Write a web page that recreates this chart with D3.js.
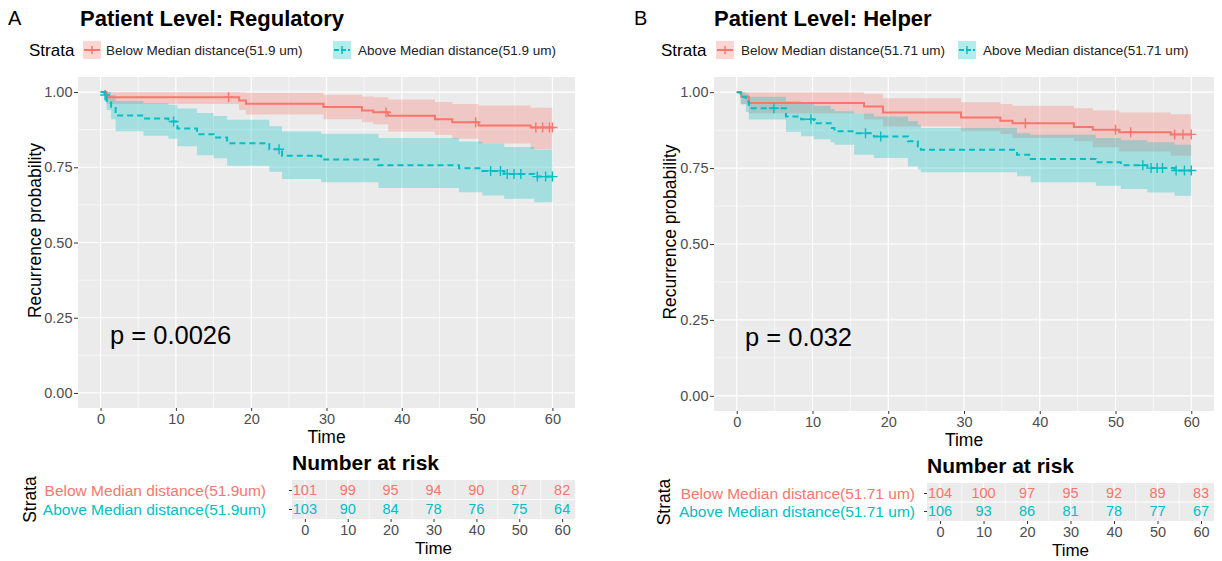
<!DOCTYPE html>
<html><head><meta charset="utf-8">
<script src="https://cdn.jsdelivr.net/npm/d3@7/dist/d3.min.js"></script>
<style>
body{margin:0;background:#fff}
text{font-family:"Liberation Sans",Arial,sans-serif}
</style>
</head><body>
<svg id="c" width="1222" height="561"></svg>
<script>
// ---------------- DATA ----------------
const timeTicks = [0, 10, 20, 30, 40, 50, 60];
const timeMinor = [5, 15, 25, 35, 45, 55];
const probTicks = [0, 0.25, 0.5, 0.75, 1];
const probMinor = [0.125, 0.375, 0.625, 0.875];
const strata = ["Below", "Above"];

// Panel A — Regulatory
const timesA_below = [0, 0.8, 18.4, 19.3, 29.6, 34.7, 36.2, 38.2, 44.4, 46.7, 50.2, 57.1, 60];
const survA_below  = [1, 0.983, 0.972, 0.961, 0.950, 0.939, 0.933, 0.921, 0.910, 0.900, 0.889, 0.882, 0.882];
const upperA_below = [1, 1, 0.999, 0.998, 0.991, 0.985, 0.983, 0.975, 0.967, 0.960, 0.955, 0.948, 0.948];
const lowerA_below = [1, 0.960, 0.940, 0.925, 0.910, 0.900, 0.893, 0.869, 0.858, 0.845, 0.829, 0.811, 0.811];
const censorA_below = [17, 37.9, 49.8, 57.8, 58.7, 59.6, 60];

const timesA_above = [0, 0.5, 0.8, 1.4, 2.0, 5.7, 9.0, 10.2, 12.8, 15.0, 16.8, 22.4, 24.1, 29.3, 36.9, 47.6, 50.7, 53.6, 57.6, 60];
const survA_above  = [1, 0.99, 0.971, 0.951, 0.922, 0.912, 0.902, 0.879, 0.86, 0.849, 0.83, 0.81, 0.788, 0.776, 0.757, 0.747, 0.738, 0.728, 0.719, 0.719];
const upperA_above = [1, 1, 1, 0.99, 0.97, 0.963, 0.958, 0.945, 0.93, 0.92, 0.908, 0.886, 0.869, 0.861, 0.847, 0.836, 0.829, 0.817, 0.809, 0.809];
const lowerA_above = [1, 0.97, 0.94, 0.91, 0.87, 0.855, 0.845, 0.82, 0.79, 0.78, 0.755, 0.735, 0.711, 0.700, 0.681, 0.667, 0.656, 0.645, 0.634, 0.634];
const censorA_above = [0.6, 9.7, 23.7, 51.8, 53.1, 54.0, 54.9, 55.8, 58.0, 59.1, 60];

const riskA_below = [101, 99, 95, 94, 90, 87, 82];
const riskA_above = [103, 90, 84, 78, 76, 75, 64];

// Panel B — Helper
const timesB_below = [0, 0.6, 1.6, 16.8, 19.3, 29.6, 34.8, 36.4, 44.5, 47.0, 50.5, 57.3, 60];
const survB_below  = [1, 0.985, 0.964, 0.953, 0.933, 0.917, 0.906, 0.898, 0.885, 0.876, 0.868, 0.861, 0.861];
const upperB_below = [1, 1, 1, 0.995, 0.98, 0.967, 0.961, 0.955, 0.947, 0.94, 0.933, 0.927, 0.927];
const lowerB_below = [1, 0.96, 0.93, 0.91, 0.887, 0.871, 0.862, 0.849, 0.838, 0.819, 0.805, 0.791, 0.791];
const censorB_below = [38.1, 50.0, 52.0, 57.8, 58.9, 60];

const timesB_above = [0, 0.5, 1.2, 1.6, 6.5, 8.5, 10.2, 12.4, 12.9, 15.5, 18.1, 22.6, 23.9, 24.3, 37.0, 38.8, 47.4, 50.7, 54.2, 57.8, 60];
const survB_above  = [1, 0.985, 0.969, 0.947, 0.92, 0.911, 0.898, 0.882, 0.871, 0.865, 0.854, 0.838, 0.821, 0.81, 0.794, 0.78, 0.769, 0.759, 0.75, 0.742, 0.742];
const upperB_above = [1, 1, 0.995, 0.985, 0.97, 0.965, 0.955, 0.945, 0.937, 0.93, 0.92, 0.905, 0.893, 0.882, 0.865, 0.86, 0.849, 0.842, 0.835, 0.827, 0.827];
const lowerB_above = [1, 0.96, 0.935, 0.91, 0.87, 0.855, 0.845, 0.835, 0.827, 0.794, 0.783, 0.755, 0.745, 0.736, 0.723, 0.703, 0.692, 0.681, 0.67, 0.659, 0.659];
const censorB_above = [4.9, 9.8, 17.0, 19.0, 53.6, 54.7, 55.5, 56.2, 58.0, 59.1, 60];

const riskB_below = [104, 100, 97, 95, 92, 89, 83];
const riskB_above = [106, 93, 86, 81, 78, 77, 67];

// ---------------- DRAW ----------------
const RED = "#F8766D", TEAL = "#00BFC4";
const PANEL_BG = "#EBEBEB", AXIS_TXT = "#4D4D4D";
const svg = d3.select("#c");

const panels = [
  {
    letter: "A", title: "Patient Level: Regulatory", pText: "p = 0.0026",
    legend: ["Below Median distance(51.9 um)", "Above Median distance(51.9 um)"],
    tableLabels: ["Below Median distance(51.9um)", "Above Median distance(51.9um)"],
    curves: [
      {t: timesA_below, s: survA_below, lo: lowerA_below, hi: upperA_below, c: censorA_below, col: RED, dash: null},
      {t: timesA_above, s: survA_above, lo: lowerA_above, hi: upperA_above, c: censorA_above, col: TEAL, dash: "6,4"}
    ],
    risk: [riskA_below, riskA_above],
    g: {letterX: 8, titleX: 80, strataX: 29, keys: [83, 333], labs: [106, 358],
        pl: 78, pr: 575, pt: 77, pb: 408, ytX: 35, pX: 110, pY: 344, timeY: 443,
        tl: 292, tr: 575, tt: 480, tb: 519, rows: [490, 509], labRight: 266, strataTX: 30, nY: 470, tTimeY: 554}
  },
  {
    letter: "B", title: "Patient Level: Helper", pText: "p = 0.032",
    legend: ["Below Median distance(51.71 um)", "Above Median distance(51.71 um)"],
    tableLabels: ["Below Median distance(51.71 um)", "Above Median distance(51.71 um)"],
    curves: [
      {t: timesB_below, s: survB_below, lo: lowerB_below, hi: upperB_below, c: censorB_below, col: RED, dash: null},
      {t: timesB_above, s: survB_above, lo: lowerB_above, hi: upperB_above, c: censorB_above, col: TEAL, dash: "6,4"}
    ],
    risk: [riskB_below, riskB_above],
    g: {letterX: 634, titleX: 714, strataX: 661, keys: [716, 958], labs: [741, 983],
        pl: 714, pr: 1214, pt: 77, pb: 411, ytX: 670, pX: 745, pY: 346, timeY: 446,
        tl: 927, tr: 1214, tt: 483, tb: 521, rows: [493, 511], labRight: 915, strataTX: 664, nY: 473, tTimeY: 556}
  }
];

function styleAxis(sel, size) {
  sel.select(".domain").remove();
  sel.selectAll(".tick line").attr("stroke", "#333").attr("stroke-width", 1);
  sel.selectAll(".tick text").attr("fill", AXIS_TXT).style("font-size", size + "px")
     .style("font-family", '"Liberation Sans",Arial,sans-serif');
}

panels.forEach(P => {
  const g = P.g;
  // panel letter & title
  svg.append("text").attr("x", g.letterX).attr("y", 25).style("font-size", "20px").text(P.letter);
  svg.append("text").attr("x", g.titleX).attr("y", 26).style("font-size", "22px").style("font-weight", "bold").text(P.title);

  // legend
  svg.append("text").attr("x", g.strataX).attr("y", 56).style("font-size", "17px").text("Strata");
  P.curves.forEach((c, i) => {
    const kx = g.keys[i], ky = 41;
    svg.append("rect").attr("x", kx).attr("y", ky).attr("width", 18).attr("height", 18)
       .attr("fill", c.col).attr("fill-opacity", 0.3);
    svg.append("line").attr("x1", kx + 1).attr("x2", kx + 17).attr("y1", ky + 9).attr("y2", ky + 9)
       .attr("stroke", c.col).attr("stroke-width", 2).attr("stroke-dasharray", c.dash ? "5,2" : null);
    svg.append("line").attr("x1", kx + 9).attr("x2", kx + 9).attr("y1", ky + 5).attr("y2", ky + 13)
       .attr("stroke", c.col).attr("stroke-width", 1.5);
    svg.append("text").attr("x", g.labs[i]).attr("y", 55).style("font-size", "13.5px").attr("fill", "#222").text(P.legend[i]);
  });

  // scales
  const x = d3.scaleLinear().domain([-3, 63]).range([g.pl, g.pr]);
  const y = d3.scaleLinear().domain([-0.05, 1.05]).range([g.pb, g.pt]);

  // panel background + grid
  svg.append("rect").attr("x", g.pl).attr("y", g.pt).attr("width", g.pr - g.pl).attr("height", g.pb - g.pt).attr("fill", PANEL_BG);
  const grid = svg.append("g");
  timeMinor.forEach(t => grid.append("line").attr("x1", x(t)).attr("x2", x(t)).attr("y1", g.pt).attr("y2", g.pb).attr("stroke", "#fff").attr("stroke-width", 0.6));
  probMinor.forEach(v => grid.append("line").attr("x1", g.pl).attr("x2", g.pr).attr("y1", y(v)).attr("y2", y(v)).attr("stroke", "#fff").attr("stroke-width", 0.6));
  timeTicks.forEach(t => grid.append("line").attr("x1", x(t)).attr("x2", x(t)).attr("y1", g.pt).attr("y2", g.pb).attr("stroke", "#fff").attr("stroke-width", 1.2));
  probTicks.forEach(v => grid.append("line").attr("x1", g.pl).attr("x2", g.pr).attr("y1", y(v)).attr("y2", y(v)).attr("stroke", "#fff").attr("stroke-width", 1.2));

  // CI bands
  P.curves.forEach(c => {
    const pts = c.t.map((t, i) => ({t, s: c.s[i], lo: c.lo[i], hi: c.hi[i]}));
    const area = d3.area().x(d => x(d.t)).y0(d => y(d.lo)).y1(d => y(d.hi)).curve(d3.curveStepAfter);
    svg.append("path").attr("d", area(pts)).attr("fill", c.col).attr("fill-opacity", 0.3);
  });
  // step curves + censor marks
  P.curves.forEach(c => {
    const pts = c.t.map((t, i) => ({t, s: c.s[i]}));
    const line = d3.line().x(d => x(d.t)).y(d => y(d.s)).curve(d3.curveStepAfter);
    svg.append("path").attr("d", line(pts)).attr("fill", "none").attr("stroke", c.col)
       .attr("stroke-width", 2).attr("stroke-dasharray", c.dash);
    c.c.forEach(ct => {
      let idx = 0;
      c.t.forEach((t, i) => { if (t <= ct) idx = i; });
      const cx = x(ct), cy = y(c.s[idx]);
      svg.append("path").attr("d", `M${cx},${cy - 5}V${cy + 5}M${cx - 5},${cy}H${cx + 5}`)
         .attr("stroke", c.col).attr("stroke-width", 1.4).attr("fill", "none");
    });
  });

  // axes
  const xa = svg.append("g").attr("transform", `translate(0,${g.pb})`)
     .call(d3.axisBottom(x).tickValues(timeTicks).tickSize(3).tickPadding(3));
  styleAxis(xa, 14.5);
  const ya = svg.append("g").attr("transform", `translate(${g.pl},0)`)
     .call(d3.axisLeft(y).tickValues(probTicks).tickSize(4).tickPadding(1.5).tickFormat(d3.format(".2f")));
  styleAxis(ya, 14.5);

  svg.append("text").attr("x", (g.pl + g.pr) / 2).attr("y", g.timeY).attr("text-anchor", "middle").style("font-size", "17.5px").text("Time");
  svg.append("text").attr("transform", `translate(${g.ytX + 6},${(g.pt + g.pb) / 2 - 12}) rotate(-90)`)
     .attr("text-anchor", "middle").style("font-size", "17.5px").text("Recurrence probability");
  svg.append("text").attr("x", g.pX).attr("y", g.pY).style("font-size", "25.5px").text(P.pText);

  // ---------- risk table ----------
  svg.append("text").attr("x", g.tl).attr("y", g.nY).style("font-size", "21px").style("font-weight", "bold").text("Number at risk");
  const tx = d3.scaleLinear().domain([-3, 63]).range([g.tl, g.tr]);
  const ty = d3.scalePoint().domain(strata).range(g.rows);
  svg.append("rect").attr("x", g.tl).attr("y", g.tt).attr("width", g.tr - g.tl).attr("height", g.tb - g.tt).attr("fill", PANEL_BG);
  const tg = svg.append("g");
  timeMinor.forEach(t => tg.append("line").attr("x1", tx(t)).attr("x2", tx(t)).attr("y1", g.tt).attr("y2", g.tb).attr("stroke", "#fff").attr("stroke-width", 0.6));
  timeTicks.forEach(t => tg.append("line").attr("x1", tx(t)).attr("x2", tx(t)).attr("y1", g.tt).attr("y2", g.tb).attr("stroke", "#fff").attr("stroke-width", 1.2));
  tg.append("line").attr("x1", g.tl).attr("x2", g.tr).attr("y1", (g.rows[0] + g.rows[1]) / 2).attr("y2", (g.rows[0] + g.rows[1]) / 2).attr("stroke", "#fff").attr("stroke-width", 1.2);

  strata.forEach((s, si) => {
    const col = P.curves[si].col;
    timeTicks.forEach((t, ti) => {
      svg.append("text").attr("x", tx(t)).attr("y", ty(s)).attr("dy", "0.36em").attr("text-anchor", "middle")
         .attr("fill", col).style("font-size", "14.5px").text(P.risk[si][ti]);
    });
    svg.append("text").attr("x", g.labRight).attr("y", ty(s)).attr("dy", "0.36em").attr("text-anchor", "end")
       .attr("fill", col).style("font-size", "15.5px").text(P.tableLabels[si]);
  });
  const tya = svg.append("g").attr("transform", `translate(${g.tl},0)`)
     .call(d3.axisLeft(ty).tickSize(3).tickFormat(""));
  styleAxis(tya, 14);
  const txa = svg.append("g").attr("transform", `translate(0,${g.tb})`)
     .call(d3.axisBottom(tx).tickValues(timeTicks).tickSize(3).tickPadding(3));
  styleAxis(txa, 14.5);
  svg.append("text").attr("x", (g.tl + g.tr) / 2).attr("y", g.tTimeY).attr("text-anchor", "middle").style("font-size", "17px").text("Time");
  svg.append("text").attr("transform", `translate(${g.strataTX + 6},${(g.rows[0] + g.rows[1]) / 2}) rotate(-90)`)
     .attr("text-anchor", "middle").style("font-size", "17.5px").text("Strata");
});
</script>
</body></html>
